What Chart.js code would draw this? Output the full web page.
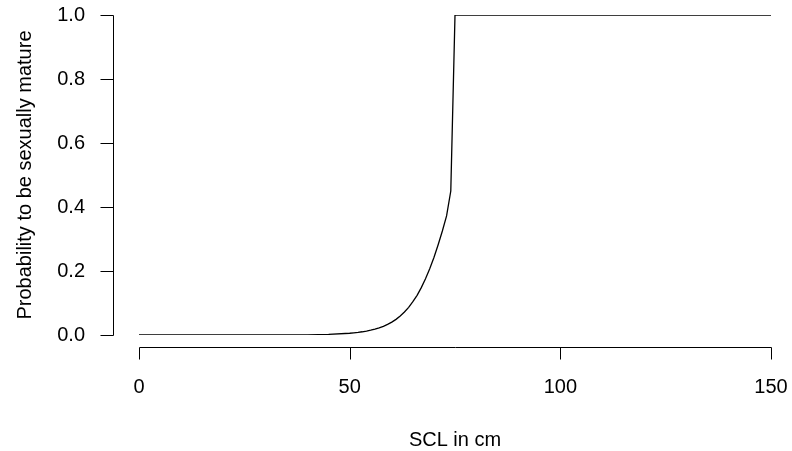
<!DOCTYPE html>
<html>
<head>
<meta charset="utf-8">
<script src="https://cdn.jsdelivr.net/npm/chart.js@4.4.0/dist/chart.umd.min.js"></script>
<style>
    html, body { margin: 0; padding: 0; background: #fff; }
    #wrap { width: 792px; height: 451px; }
</style>
</head>
<body>
<div id="wrap"><canvas id="maturityChart" width="792" height="451"></canvas></div>
<script>
// Straight carapace length (cm) and fitted probability of maturity
const sclValues = [0, 5, 10, 15, 20, 25, 30, 35, 40, 45,
    50, 51, 52, 53, 54, 55, 56, 57, 58, 59,
    60, 61, 62, 63, 64, 65, 66, 67, 68, 69,
    70, 71, 72, 73, 74, 75, 150];
const probMature = [0, 0, 0, 0, 0.00001, 0.00003, 0.00009, 0.00025, 0.0007, 0.002,
    0.0055, 0.0068, 0.0083, 0.0101, 0.0123, 0.015, 0.0183, 0.0223, 0.0272, 0.0331,
    0.0403, 0.0489, 0.0593, 0.0717, 0.0865, 0.104, 0.124, 0.148, 0.176, 0.207,
    0.242, 0.282, 0.325, 0.372, 0.45, 1.0, 1.0];

const xTicks = [0, 50, 100, 150];
const yTicks = [0.0, 0.2, 0.4, 0.6, 0.8, 1.0];
const xTitle = "SCL in cm";
const yTitle = "Probability to be sexually mature";

const FONT = "20px 'Liberation Sans', Arial, Helvetica, sans-serif";

// base-graphics style axes, drawn detached from the plot region
const rAxes = {
    id: 'rAxes',
    afterDraw(chart) {
        const c = chart.ctx;
        const xs = chart.scales.x;
        const ys = chart.scales.y;
        const axisY = 347.5;
        const axisX = 113.5;
        const tickLen = 12;

        c.save();
        c.strokeStyle = "#000";
        c.fillStyle = "#000";
        c.lineWidth = 1;
        c.font = FONT;

        // x axis
        const x0 = Math.round(xs.getPixelForValue(xTicks[0])) + 0.5;
        const x1 = Math.round(xs.getPixelForValue(xTicks[xTicks.length - 1])) + 0.5;
        c.beginPath();
        c.moveTo(x0, axisY);
        c.lineTo(x1, axisY);
        xTicks.forEach(t => {
            const px = Math.round(xs.getPixelForValue(t)) + 0.5;
            c.moveTo(px, axisY);
            c.lineTo(px, axisY + tickLen);
        });
        c.stroke();
        c.textAlign = "center";
        c.textBaseline = "middle";
        xTicks.forEach(t => {
            c.fillText(String(t), xs.getPixelForValue(t), 387);
        });

        // y axis
        const y0 = Math.round(ys.getPixelForValue(yTicks[0])) + 0.5;
        const y1 = Math.round(ys.getPixelForValue(yTicks[yTicks.length - 1])) + 0.5;
        c.beginPath();
        c.moveTo(axisX, y0);
        c.lineTo(axisX, y1);
        yTicks.forEach(t => {
            const py = Math.round(ys.getPixelForValue(t)) + 0.5;
            c.moveTo(axisX, py);
            c.lineTo(axisX - tickLen - 1, py);
        });
        c.stroke();
        c.textAlign = "right";
        yTicks.forEach(t => {
            c.fillText(t.toFixed(1), 85, ys.getPixelForValue(t));
        });

        // titles
        c.textAlign = "center";
        c.fillText(xTitle, (xs.left + xs.right) / 2, 440);
        c.translate(25, (ys.top + ys.bottom) / 2);
        c.rotate(-Math.PI / 2);
        c.fillText(yTitle, 0, 0);
        c.restore();
    }
};

new Chart(document.getElementById("maturityChart"), {
    type: "scatter",
    data: {
        datasets: [{
            data: sclValues.map((x, i) => ({ x: x, y: probMature[i] })),
            showLine: true,
            borderColor: "#000",
            borderWidth: 1.3,
            pointRadius: 0,
            tension: 0,
            fill: false
        }]
    },
    options: {
        responsive: false,
        animation: false,
        layout: { padding: { left: 139, right: 21, top: 15, bottom: 116 } },
        scales: {
            x: { type: "linear", min: 0, max: 150, display: false },
            y: { type: "linear", min: 0, max: 1, display: false }
        },
        plugins: {
            legend: { display: false },
            tooltip: { enabled: false }
        }
    },
    plugins: [rAxes]
});
</script>
</body>
</html>
